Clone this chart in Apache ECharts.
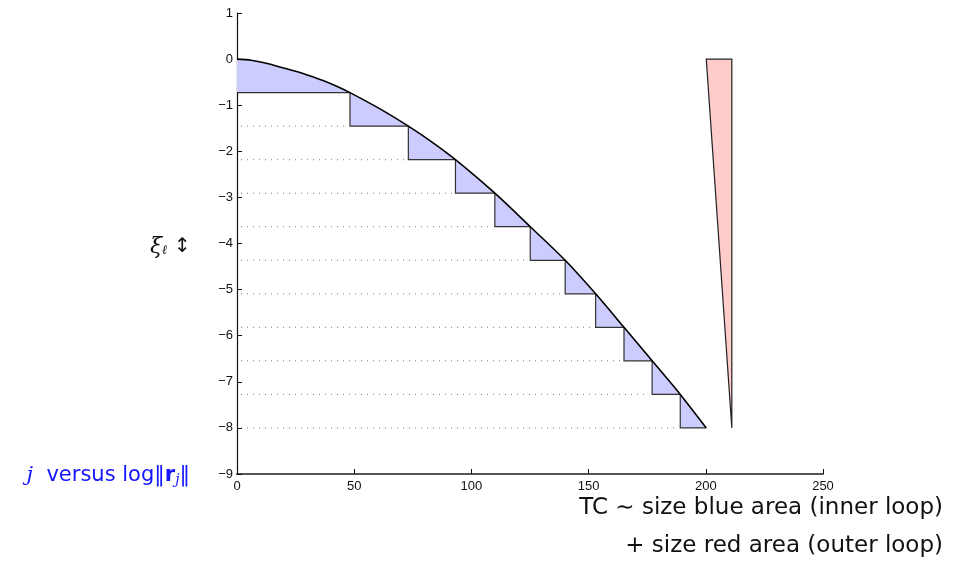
<!DOCTYPE html>
<html>
<head>
<meta charset="utf-8">
<script src="https://cdn.jsdelivr.net/npm/echarts@6/dist/echarts.min.js"></script>
<style>
  html, body { margin: 0; padding: 0; background: #fff; }
  #chart { width: 966px; height: 563px; }
</style>
</head>
<body>
<div id="chart"></div>
<script>
// curve j versus log||r_j||
const curveX = [0, 6, 12.5, 19, 26.8, 32, 37.5, 43, 48.2, 61, 73.1, 83.5, 93.2, 110, 125.1, 140, 153, 165.1, 177.1, 189.1, 200.2];
const curveY = [0, -0.025, -0.09, -0.18, -0.29, -0.38, -0.48, -0.6, -0.727, -1.08, -1.455, -1.81, -2.182, -2.909, -3.636, -4.364, -5.091, -5.818, -6.545, -7.273, -8];

// staircase corners (where the curve meets each level xi_l)
const stepX = [0, 48.2, 73.1, 93.2, 110, 125.1, 140, 153, 165.1, 177.1, 189.1, 200.2];
const stepLevel = [0, -0.727, -1.455, -2.182, -2.909, -3.636, -4.364, -5.091, -5.818, -6.545, -7.273, -8];

// red triangle (outer loop)
const outerX = [200.2, 211.1, 211.1];
const outerY = [0, 0, -8];

const curveData = curveX.map((x, i) => [x, curveY[i]]);

const myChart = echarts.init(document.getElementById('chart'));

function renderShapes(params, api) {
  const c = (x, y) => api.coord([x, y]);
  const children = [];

  // blue area between curve and staircase
  const poly = curveX.map((x, i) => c(x, curveY[i]));
  for (let k = stepX.length - 1; k >= 1; k--) {
    poly.push(c(stepX[k - 1], stepLevel[k]));
    if (k > 1) poly.push(c(stepX[k - 1], stepLevel[k - 1]));
  }
  children.push({
    type: 'polygon',
    shape: { points: poly },
    style: { fill: '#ccccff', stroke: null }
  });

  // dotted guide lines
  for (let k = 2; k < stepX.length; k++) {
    const a = c(0, stepLevel[k]), b = c(stepX[k - 1], stepLevel[k]);
    children.push({
      type: 'line',
      shape: { x1: a[0] + 4, y1: a[1], x2: b[0] - 3, y2: b[1] },
      style: { stroke: '#777', lineWidth: 1, lineDash: [1, 5] }
    });
  }

  // staircase edges
  for (let k = 1; k < stepX.length; k++) {
    const pts = [];
    if (k > 1) pts.push(c(stepX[k - 1], stepLevel[k - 1]));
    pts.push(c(stepX[k - 1], stepLevel[k]));
    pts.push(c(stepX[k], stepLevel[k]));
    children.push({
      type: 'polyline',
      shape: { points: pts },
      style: { stroke: '#333', lineWidth: 1.2, fill: null }
    });
  }

  // red triangle
  children.push({
    type: 'polygon',
    shape: { points: outerX.map((x, i) => c(x, outerY[i])) },
    style: { fill: '#ffcccc', stroke: '#222', lineWidth: 1.2 }
  });

  return { type: 'group', children: children };
}

const option = {
  animation: false,
  grid: { left: 237, right: 143, top: 13, bottom: 89, containLabel: false },
  xAxis: {
    type: 'value',
    min: 0,
    max: 250,
    interval: 50,
    axisLine: { show: true, onZero: false, lineStyle: { color: '#555', width: 2 } },
    axisTick: { show: true, inside: true, length: 5, lineStyle: { color: '#111' } },
    axisLabel: { color: '#111', fontSize: 13, fontFamily: 'Liberation Sans', margin: 6 },
    splitLine: { show: false }
  },
  yAxis: {
    type: 'value',
    min: -9,
    max: 1,
    interval: 1,
    axisLine: { show: true, onZero: false, lineStyle: { color: '#111', width: 1.2 } },
    axisTick: { show: true, inside: true, length: 5, lineStyle: { color: '#111' } },
    axisLabel: {
      color: '#111', fontSize: 13, fontFamily: 'Liberation Sans', margin: 4,
      formatter: v => String(v).replace('-', '\u2212')
    },
    splitLine: { show: false }
  },
  series: [
    {
      type: 'custom',
      renderItem: renderShapes,
      data: [[0, 0]],
      clip: false,
      silent: true,
      z: 2
    },
    {
      type: 'line',
      data: curveData,
      showSymbol: false,
      smooth: 0.3,
      lineStyle: { color: '#000', width: 1.6 },
      z: 3
    }
  ],
  graphic: [
    {
      type: 'text',
      left: 150,
      top: 236,
      style: {
        text: '{i|\u03be}{s|\u2113} \u2195',
        fill: '#111',
        fontSize: 20,
        fontFamily: 'DejaVu Sans',
        rich: {
          i: { fontSize: 22, fontStyle: 'italic', fontFamily: 'DejaVu Serif' },
          s: { fontSize: 13, fontStyle: 'italic', fontFamily: 'DejaVu Serif', padding: [8, 0, 0, 0] }
        }
      }
    },
    {
      type: 'text',
      right: 966 - 190,
      top: 465,
      style: {
        text: '{i|j}  versus log\u2016{b|r}{s|j}\u2016',
        fill: '#1515ff',
        fontSize: 21,
        fontFamily: 'DejaVu Sans',
        rich: {
          i: { fontSize: 21, fontStyle: 'italic', fontFamily: 'DejaVu Serif', fill: '#1515ff' },
          b: { fontSize: 21, fontWeight: 'bold', fontFamily: 'DejaVu Sans', fill: '#1515ff' },
          s: { fontSize: 14, fontStyle: 'italic', fontFamily: 'DejaVu Serif', fill: '#1515ff', padding: [9, 0, 0, 0] }
        }
      }
    },
    {
      type: 'text',
      right: 966 - 943,
      top: 497,
      style: {
        text: 'TC \u223c size blue area (inner loop)',
        fill: '#111',
        fontSize: 23,
        fontFamily: 'DejaVu Sans'
      }
    },
    {
      type: 'text',
      right: 966 - 943,
      top: 535,
      style: {
        text: '+ size red area (outer loop)',
        fill: '#111',
        fontSize: 23,
        fontFamily: 'DejaVu Sans'
      }
    }
  ]
};

myChart.setOption(option);
window.addEventListener('resize', () => myChart.resize());
</script>
</body>
</html>
